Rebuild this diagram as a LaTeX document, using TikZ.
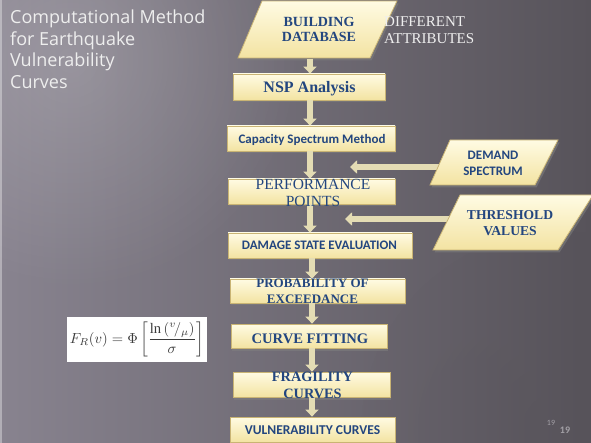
\documentclass[tikz,border=0pt]{standalone}
\usepackage{fontspec}
\setmainfont{Liberation Serif}
\newfontfamily\titlefont{Open Sans}
\newfontfamily\calib{Carlito}
\usetikzlibrary{arrows.meta,shadows,fadings}
\tikzfading[name=myglow, inner color=transparent!0, outer color=transparent!100]
\definecolor{bgl}{HTML}{88838F}
\definecolor{bgr}{HTML}{57535A}
\definecolor{boxtop}{HTML}{FFFBE3}
\definecolor{boxbot}{HTML}{F3E3A2}
\definecolor{boxedge}{HTML}{C9B474}
\definecolor{txtblue}{HTML}{23467F}
\definecolor{arrowc}{HTML}{E4DCB4}
\definecolor{lightgray}{HTML}{EEEEEE}
\definecolor{pgray}{HTML}{A3A0A6}
\definecolor{formc}{HTML}{3A3A3A}
\newcommand{\fsz}[1]{\fontsize{#1}{#1}\selectfont}
\tikzset{
  stepbox/.style={draw=boxedge, line width=0.8pt, top color=boxtop, bottom color=boxbot,
    inner sep=0pt, drop shadow={opacity=0.55, shadow xshift=1pt, shadow yshift=-2.5pt}},
  para/.style={draw=boxedge, line width=0.8pt, top color=boxtop, bottom color=boxbot,
    drop shadow={opacity=0.55, shadow xshift=1.5pt, shadow yshift=-2.5pt}},
  flowarrow/.style={line width=6pt, draw=arrowc, -{Triangle[width=13pt,length=7pt]}},
  serifb/.style={font=\bfseries\fsz{#1}, text=txtblue, anchor=base, inner sep=0pt},
  serifr/.style={font=\fsz{#1}, text=txtblue, anchor=base, inner sep=0pt},
  sansb/.style={font=\calib\bfseries\fsz{#1}, text=txtblue, anchor=base, inner sep=0pt},
  titletxt/.style={font=\titlefont\fsz{18}, text=lightgray, anchor=base west, inner sep=0pt},
}
\begin{document}
\begin{tikzpicture}[x=1pt,y=-1pt]
\useasboundingbox (0,0) rectangle (591,443);
% background
\shade[left color=bgl, right color=bgr] (0,0) rectangle (591,443);
\fill[white, opacity=0.18, path fading=myglow] (70,60) circle (230);
\fill[bgr, opacity=0.25, path fading=myglow] (560,430) circle (200);
\draw[line width=2pt, draw=white, opacity=0.35] (1,0) -- (1,443);

% title
\node[titletxt] (t1) at (10,24) {Computational Method};
\node[titletxt] (t2) at (10,45.5) {for Earthquake};
\node[titletxt] (t3) at (10,67) {Vulnerability};
\node[titletxt] (t4) at (10,88.5) {Curves};

% boxes (empty), texts come later
\node[stepbox, minimum width=152pt, minimum height=26pt] (nsp) at (309,87) {};
\node[stepbox, minimum width=168pt, minimum height=25pt] (csm) at (311,138.5) {};
\node[stepbox, minimum width=167pt, minimum height=25pt] (pp) at (311.5,191.5) {};
\node[stepbox, minimum width=184pt, minimum height=25pt] (dse) at (320,245.5) {};
\node[stepbox, minimum width=175pt, minimum height=24pt] (poe) at (317.5,291) {};
\node[stepbox, minimum width=156pt, minimum height=24pt] (cf) at (309,336) {};
\node[stepbox, minimum width=157pt, minimum height=25pt] (fc) at (311.5,384.5) {};
\node[stepbox, minimum width=165pt, minimum height=25pt] (vc) at (312.5,429.5) {};

% building database parallelogram
\coordinate (bd1) at (262,1);
\coordinate (bd2) at (397,1);
\coordinate (bd3) at (370,58);
\coordinate (bd4) at (238,58);
\path[para] (bd1) -- (bd2) -- (bd3) -- (bd4) -- cycle;
\node[inner sep=0pt] (bd) at (310,58) {};

% side arrows (drawn below the input parallelograms)
\coordinate (dstart) at (452,167);
\coordinate (dtip) at (350,167);
\coordinate (tstart) at (460,219);
\coordinate (ttip) at (345,219);
\draw[flowarrow] (dstart) -- (dtip);
\draw[flowarrow] (tstart) -- (ttip);

% demand / threshold parallelograms
\coordinate (dm1) at (450,140);
\coordinate (dm2) at (558,140);
\coordinate (dm3) at (535,185);
\coordinate (dm4) at (430,185);
\path[para] (dm1) -- (dm2) -- (dm3) -- (dm4) -- cycle;
\coordinate (th1) at (460,195);
\coordinate (th2) at (593,195);
\coordinate (th3) at (558,250);
\coordinate (th4) at (433,250);
\path[para] (th1) -- (th2) -- (th3) -- (th4) -- cycle;

% main arrows
\coordinate (ax) at (310,0);
\draw[flowarrow] (bd.south -| ax) -- (nsp.north -| ax);
\draw[flowarrow] (nsp.south -| ax) -- (csm.north -| ax);
\draw[flowarrow] (csm.south -| ax) -- (pp.north -| ax);
\draw[flowarrow] (pp.south -| ax) -- (dse.north -| ax);
\coordinate (ax2) at (312,0);
\draw[flowarrow] (dse.south -| ax2) -- (poe.north -| ax2);
\draw[flowarrow] (poe.south -| ax2) -- (cf.north -| ax2);
\draw[flowarrow] (cf.south -| ax2) -- (fc.north -| ax2);
\draw[flowarrow] (fc.south -| ax2) -- (vc.north -| ax2);

% texts
\node[serifb=14] (bdt1) at (319,27) {BUILDING};
\node[serifb=14] (bdt2) at (319,42) {DATABASE};
\node[font=\fsz{15}, text=lightgray, anchor=base west, inner sep=0pt] (da1) at (384,27) {DIFFERENT};
\node[font=\fsz{15}, text=lightgray, anchor=base west, inner sep=0pt] (da2) at (384,44) {ATTRIBUTES};
\node[serifb=16] (nspt) at (309.5,93) {NSP Analysis};
\node[sansb=13] (csmt) at (312,144) {Capacity Spectrum Method};
\node[serifr=15.5] (ppt1) at (313,190) {PERFORMANCE};
\node[serifr=15.5] (ppt2) at (313,207) {POINTS};
\node[sansb=13] (dset) at (319.5,250) {DAMAGE STATE EVALUATION};
\node[sansb=13] (dmt1) at (493,160) {DEMAND};
\node[sansb=13] (dmt2) at (493,176) {SPECTRUM};
\node[serifb=13.6] (tht1) at (510,220) {THRESHOLD};
\node[serifb=13.6] (tht2) at (510,236) {VALUES};
\node[serifb=13] (poet1) at (312.5,288) {PROBABILITY OF};
\node[serifb=13] (poet2) at (312.5,304) {EXCEEDANCE};
\node[serifb=14.6] (cft) at (310,343) {CURVE FITTING};
\node[serifb=14.3] (fct1) at (312.5,381) {FRAGILITY};
\node[serifb=14.3] (fct2) at (312.5,398) {CURVES};
\node[sansb=13.5] (vct) at (312.5,434) {VULNERABILITY CURVES};

% formula
\node[fill=white, minimum width=140pt, minimum height=45pt, inner sep=0pt] (fbox) at (137,339.5) {};
\node[text=formc, inner sep=0pt] (ftext) at (137,339.5)
  {\resizebox{134pt}{!}{$\displaystyle F_R(v) = \Phi\left[\frac{\ln\,({}^{v}\!/_{\mu})}{\sigma}\right]$}};

% page number
\node[font=\calib\fsz{8}, text=pgray, inner sep=0pt] (pn1) at (551,423) {19};
\node[font=\calib\bfseries\fsz{10}, text=pgray, inner sep=0pt] (pn2) at (565,430) {19};
\end{tikzpicture}
\end{document}
